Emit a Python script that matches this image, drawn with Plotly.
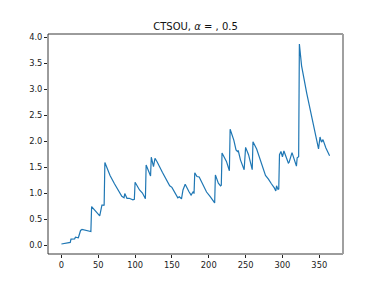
import plotly.graph_objects as go

days = [0, 12, 13, 18, 19, 23, 26, 28, 40, 41, 52, 54, 55, 57, 58, 59, 66, 72, 78, 82,
        85, 86, 89, 92, 97, 99, 100, 106, 110, 114, 115, 121, 122, 125, 127, 130, 137, 144, 147, 150,
        158, 160, 163, 165, 168, 173, 176, 179, 180, 181, 184, 187, 192, 197, 202, 208, 209, 213, 216, 217,
        218, 224, 228, 229, 234, 237, 239, 240, 243, 248, 250, 254, 259, 260, 265, 271, 277, 281, 283, 285,
        289, 291, 292, 294, 295, 296, 298, 300, 302, 306, 308, 309, 313, 316, 319, 320, 322, 323, 326, 333,
        340, 346, 349, 351, 353, 355, 359, 364]
values = [0.02, 0.05, 0.115, 0.12, 0.15, 0.14, 0.28, 0.30, 0.26, 0.74, 0.56, 0.68, 0.77, 0.77, 0.76, 1.59, 1.34, 1.18, 1.03, 0.94,
          0.91, 0.99, 0.90, 0.90, 0.87, 0.88, 1.21, 1.06, 1.00, 0.89, 1.54, 1.33, 1.69, 1.51, 1.67, 1.60, 1.40, 1.22, 1.14, 1.11,
          0.91, 0.93, 0.89, 1.06, 1.17, 1.03, 0.96, 1.03, 0.99, 1.39, 1.32, 1.31, 1.15, 1.02, 0.93, 0.81, 1.35, 1.19, 1.14, 1.15,
          1.77, 1.61, 1.43, 2.23, 2.02, 1.83, 1.80, 1.82, 1.64, 1.45, 1.88, 1.74, 1.45, 1.99, 1.85, 1.58, 1.34, 1.27, 1.22, 1.18,
          1.10, 1.04, 1.14, 1.07, 1.08, 1.74, 1.80, 1.70, 1.81, 1.67, 1.58, 1.59, 1.78, 1.65, 1.52, 1.68, 1.70, 3.87, 3.45, 2.92,
          2.47, 2.10, 1.85, 2.08, 1.98, 2.03, 1.87, 1.72]

x_ticks = [0, 50, 100, 150, 200, 250, 300, 350]
y_ticks = [0.0, 0.5, 1.0, 1.5, 2.0, 2.5, 3.0, 3.5, 4.0]
title_text = "CTSOU, <i>α</i> = , 0.5"

fig = go.Figure()
fig.add_trace(go.Scatter(x=days, y=values, mode="lines",
                         line=dict(color="#1f77b4", width=1.2), showlegend=False))

W, H = 373, 278
font = dict(family="DejaVu Sans", size=8.3, color="#222222")
fig.update_layout(
    width=W, height=H,
    margin=dict(l=40, r=38, t=26, b=32, autoexpand=False),
    paper_bgcolor="white", plot_bgcolor="white",
    title=dict(text=title_text, x=0.5, xref="paper", y=1 - 18 / H, yref="container",
               xanchor="center", yanchor="middle",
               font=dict(family="DejaVu Sans", size=10, color="#111111")),
    xaxis=dict(range=[-18.2, 382.2], tickvals=x_ticks, ticktext=[str(v) for v in x_ticks],
               showgrid=False, zeroline=False, showline=False, automargin=False,
               ticks="outside", ticklen=3, tickwidth=0.8, tickcolor="#222222",
               tickfont=font),
    yaxis=dict(range=[-0.1725, 4.0625], tickvals=y_ticks, ticktext=[f"{v:.1f}" for v in y_ticks],
               showgrid=False, zeroline=False, showline=False, automargin=False,
               ticks="outside", ticklen=3, tickwidth=0.8, tickcolor="#222222",
               tickfont=font),
    shapes=[
        dict(type="line", xref="paper", yref="paper", x0=0, x1=0, y0=0, y1=1,
             line=dict(color="#222222", width=0.9)),
        dict(type="line", xref="paper", yref="paper", x0=0, x1=1, y0=0, y1=0,
             line=dict(color="#222222", width=0.9)),
        dict(type="line", xref="paper", yref="paper", x0=0, x1=1, y0=1, y1=1,
             line=dict(color="#222222", width=0.9)),
        dict(type="line", xref="paper", yref="paper", x0=1, x1=1, y0=0, y1=1,
             line=dict(color="#a0a0a0", width=2)),
    ],
)

fig.write_html("out.html")
